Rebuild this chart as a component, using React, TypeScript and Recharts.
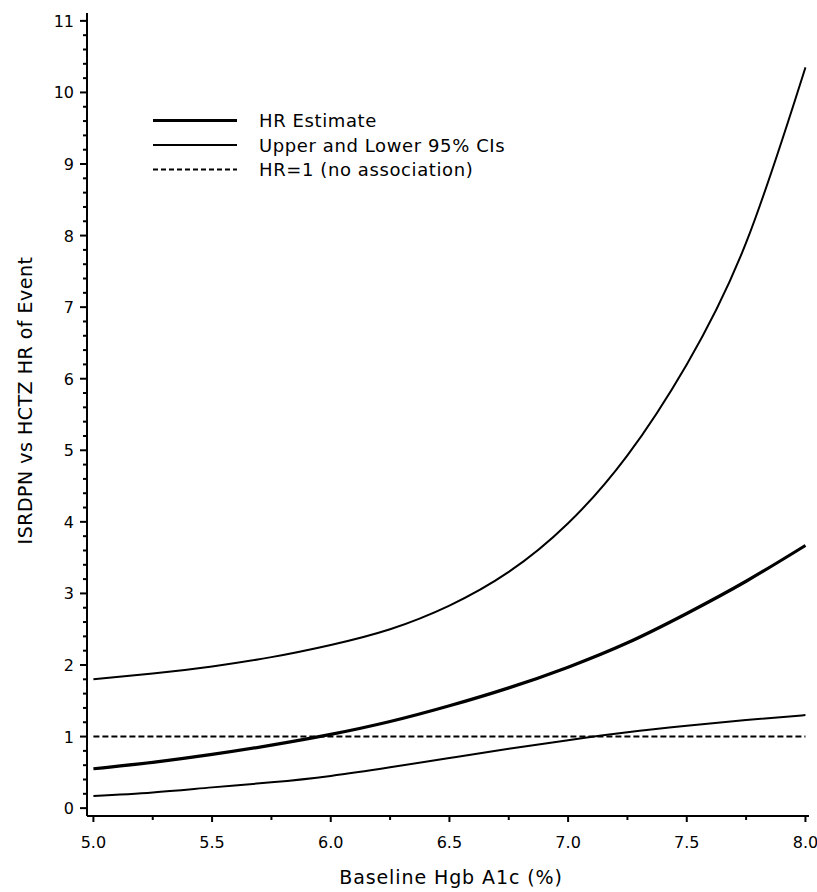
import { LineChart, Line, XAxis, YAxis, ReferenceLine, Label } from 'recharts';

// Baseline Hgb A1c (%)
const a1c = [5.0, 5.25, 5.5, 5.75, 6.0, 6.25, 6.5, 6.75, 7.0, 7.25, 7.5, 7.75, 8.0];
// hazard ratio estimate and 95% CI bounds
const hrEstimate = [0.55, 0.64, 0.75, 0.88, 1.03, 1.21, 1.43, 1.68, 1.97, 2.31, 2.72, 3.17, 3.67];
const upperCI = [1.8, 1.88, 1.98, 2.11, 2.28, 2.5, 2.83, 3.3, 3.98, 4.93, 6.2, 7.9, 10.35];
const lowerCI = [0.17, 0.22, 0.29, 0.36, 0.45, 0.57, 0.7, 0.83, 0.95, 1.06, 1.15, 1.23, 1.3];

const xMajorTicks = [5.0, 5.5, 6.0, 6.5, 7.0, 7.5, 8.0];
const yMajorTicks = [0, 1, 2, 3, 4, 5, 6, 7, 8, 9, 10, 11];

const legendItems = [
  { label: 'HR Estimate', width: 3.2, dash: undefined },
  { label: 'Upper and Lower 95% CIs', width: 2, dash: undefined },
  { label: 'HR=1 (no association)', width: 2, dash: '5 3' },
];

const FONT = '"DejaVu Sans", sans-serif';

// minor ticks: x every 0.25, y every 0.2
const xTicks: number[] = [];
for (let i = 0; i < xMajorTicks.length; i++) {
  xTicks.push(xMajorTicks[i]);
  if (i < xMajorTicks.length - 1) xTicks.push(xMajorTicks[i] + 0.25);
}
const yTicks: number[] = [];
for (let i = 0; i < yMajorTicks.length; i++) {
  yTicks.push(yMajorTicks[i]);
  if (i < yMajorTicks.length - 1) {
    for (let k = 1; k < 5; k++) yTicks.push(+(yMajorTicks[i] + k * 0.2).toFixed(1));
  }
}

const chartData = a1c.map((x, i) => ({
  x,
  est: hrEstimate[i],
  upper: upperCI[i],
  lower: lowerCI[i],
}));

const XTick = ({ x, y, payload }: any) => {
  const major = xMajorTicks.includes(payload.value);
  return (
    <g>
      <line x1={x} x2={x} y1={y} y2={y + (major ? 6 : 4)} stroke="#000" strokeWidth={2} />
      {major && (
        <text x={x} y={y + 32} textAnchor="middle" fontSize={16} fontFamily={FONT} fill="#000">
          {payload.value.toFixed(1)}
        </text>
      )}
    </g>
  );
};

const YTick = ({ x, y, payload }: any) => {
  const major = yMajorTicks.includes(payload.value);
  return (
    <g>
      <line x1={x - (major ? 7 : 4)} x2={x} y1={y} y2={y} stroke="#000" strokeWidth={2} />
      {major && (
        <text x={x - 13} y={y + 6} textAnchor="end" fontSize={16} fontFamily={FONT} fill="#000">
          {payload.value}
        </text>
      )}
    </g>
  );
};

const LegendOverlay = () => (
  <svg width={400} height={90} style={{ position: 'absolute', left: 150, top: 108, pointerEvents: 'none' }}>
    {legendItems.map((item, i) => (
      <g key={item.label}>
        <line
          x1={3}
          x2={87}
          y1={12.5 + i * 24.5}
          y2={12.5 + i * 24.5}
          stroke="#000"
          strokeWidth={item.width}
          strokeDasharray={item.dash}
        />
        <text x={109} y={19 + i * 24.5} fontSize={18} fontFamily={FONT} fill="#000" letterSpacing={0.6}>
          {item.label}
        </text>
      </g>
    ))}
  </svg>
);

export default function App() {
  return (
    <div style={{ position: 'absolute', left: 0, top: 0, width: 817, height: 892, background: '#fff' }}>
      <LineChart width={817} height={892} data={chartData} margin={{ top: 13, right: 8, left: 0, bottom: 0 }}>
        <XAxis
          dataKey="x"
          type="number"
          domain={[4.973, 8.015]}
          ticks={xTicks}
          interval={0}
          tick={<XTick />}
          tickLine={false}
          tickSize={0}
          tickMargin={0}
          height={76}
          axisLine={{ stroke: '#000', strokeWidth: 2 }}
          allowDataOverflow
        >
          <Label
            content={({ viewBox }: any) => (
              <text
                x={viewBox.x + viewBox.width / 2 + 3}
                y={884}
                textAnchor="middle"
                fontSize={19}
                fontFamily={FONT}
                fill="#000"
                letterSpacing={0.9}
              >
                Baseline Hgb A1c (%)
              </text>
            )}
          />
        </XAxis>
        <YAxis
          type="number"
          domain={[-0.11, 11.11]}
          ticks={yTicks}
          interval={0}
          tick={<YTick />}
          tickLine={false}
          tickSize={0}
          tickMargin={0}
          width={87}
          axisLine={{ stroke: '#000', strokeWidth: 2 }}
          allowDataOverflow
        >
          <Label
            content={({ viewBox }: any) => {
              const cx = viewBox.x + 25;
              const cy = viewBox.y + viewBox.height / 2 - 14;
              return (
                <text
                  x={cx}
                  y={cy}
                  transform={`rotate(-90, ${cx}, ${cy})`}
                  textAnchor="middle"
                  dominantBaseline="central"
                  fontSize={19}
                  fontFamily={FONT}
                  fill="#000"
                  letterSpacing={0.5}
                >
                  ISRDPN vs HCTZ HR of Event
                </text>
              );
            }}
          />
        </YAxis>
        <ReferenceLine
          segment={[{ x: 5.0, y: 1 }, { x: 8.0, y: 1 }]}
          stroke="#000"
          strokeWidth={2}
          strokeDasharray="6 3"
        />
        <Line type="natural" dataKey="upper" stroke="#000" strokeWidth={2} dot={false} isAnimationActive={false} />
        <Line type="natural" dataKey="lower" stroke="#000" strokeWidth={2} dot={false} isAnimationActive={false} />
        <Line type="natural" dataKey="est" stroke="#000" strokeWidth={3.2} dot={false} isAnimationActive={false} />
      </LineChart>
      <LegendOverlay />
    </div>
  );
}
